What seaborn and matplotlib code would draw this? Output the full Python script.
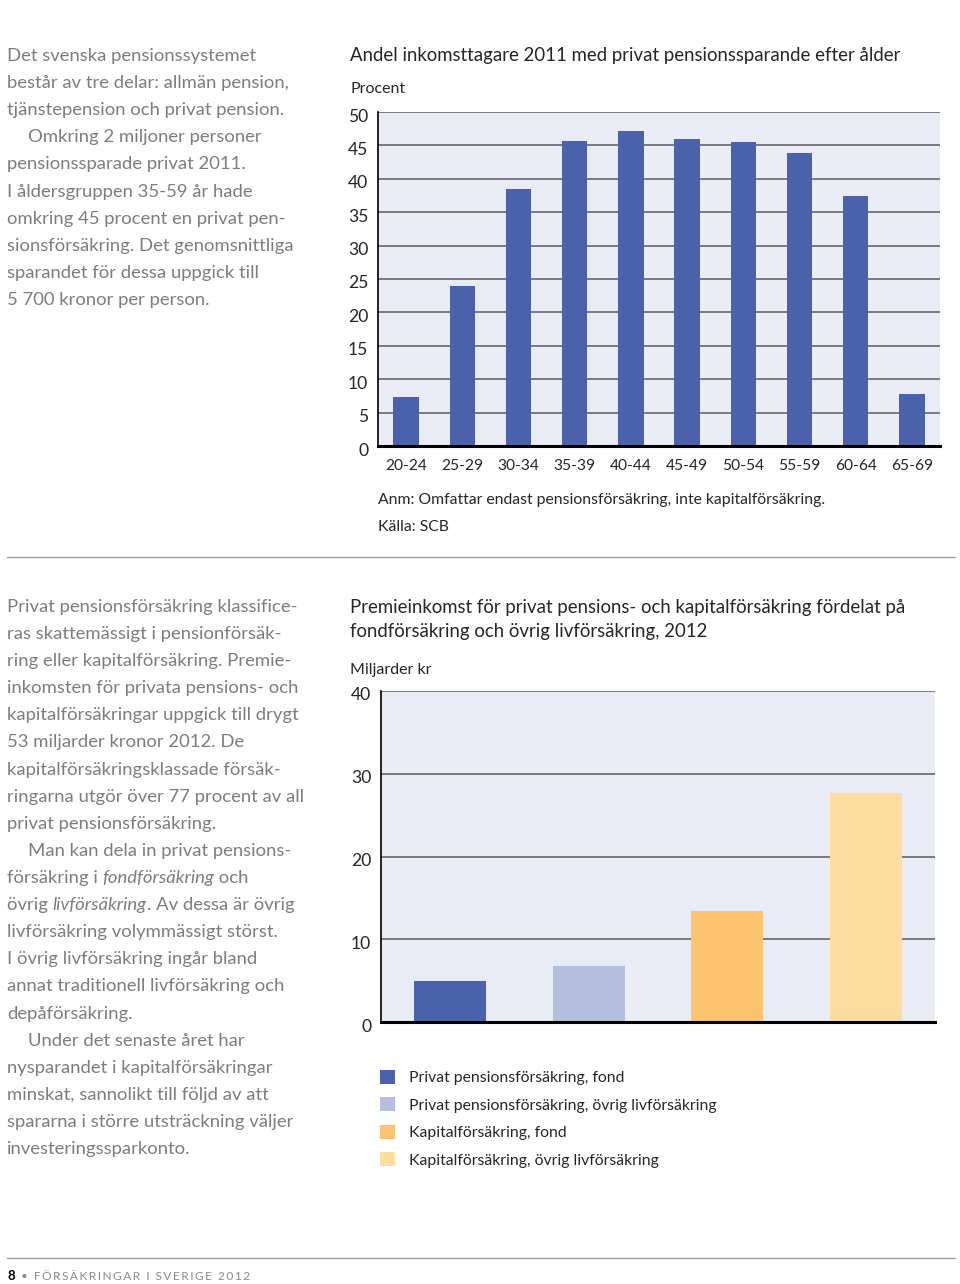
import matplotlib
matplotlib.use('Agg')
import matplotlib.pyplot as plt
import matplotlib.transforms as mtransforms
import seaborn as sns
from matplotlib.ticker import FixedLocator

# data
ages = ['20-24', '25-29', '30-34', '35-39', '40-44', '45-49', '50-54', '55-59', '60-64', '65-69']
share = [7.4, 24.0, 38.5, 45.7, 47.2, 46.0, 45.5, 43.9, 37.5, 7.8]

premie_cats = ['Privat pensionsförsäkring, fond',
               'Privat pensionsförsäkring, övrig livförsäkring',
               'Kapitalförsäkring, fond',
               'Kapitalförsäkring, övrig livförsäkring']
premie = [4.9, 6.8, 13.4, 27.7]
premie_colors = ['#4A61AB', '#B4BFDD', '#FDC46F', '#FEDDA0']

para1 = [
    (0, 'Det svenska pensionssystemet'),
    (0, 'består av tre delar: allmän pension,'),
    (0, 'tjänstepension och privat pension.'),
    (1, 'Omkring 2 miljoner personer'),
    (0, 'pensionssparade privat 2011.'),
    (0, 'I åldersgruppen 35-59 år hade'),
    (0, 'omkring 45 procent en privat pen-'),
    (0, 'sionsförsäkring. Det genomsnittliga'),
    (0, 'sparandet för dessa uppgick till'),
    (0, '5 700 kronor per person.'),
]
para2 = [
    (0, 'Privat pensionsförsäkring klassifice-'),
    (0, 'ras skattemässigt i pensionförsäk-'),
    (0, 'ring eller kapitalförsäkring. Premie-'),
    (0, 'inkomsten för privata pensions- och'),
    (0, 'kapitalförsäkringar uppgick till drygt'),
    (0, '53 miljarder kronor 2012. De'),
    (0, 'kapitalförsäkringsklassade försäk-'),
    (0, 'ringarna utgör över 77 procent av all'),
    (0, 'privat pensionsförsäkring.'),
    (1, 'Man kan dela in privat pensions-'),
    (0, [('försäkring i ', 'normal'), ('fondförsäkring', 'italic'), (' och', 'normal')]),
    (0, [('övrig ', 'normal'), ('livförsäkring', 'italic'), ('. Av dessa är övrig', 'normal')]),
    (0, 'livförsäkring volymmässigt störst.'),
    (0, 'I övrig livförsäkring ingår bland'),
    (0, 'annat traditionell livförsäkring och'),
    (0, 'depåförsäkring.'),
    (1, 'Under det senaste året har'),
    (0, 'nysparandet i kapitalförsäkringar'),
    (0, 'minskat, sannolikt till följd av att'),
    (0, 'spararna i större utsträckning väljer'),
    (0, 'investeringssparkonto.'),
]

sns.set_style('white')
plt.rcParams['font.family'] = ['Lato', 'DejaVu Sans']

W, H = 960, 1284
fig = plt.figure(figsize=(W / 100, H / 100), dpi=100)
renderer = fig.canvas.get_renderer()

BODY = '#7d7d7d'
DARK = '#262626'
BODY_SIZE = 13.3


def fx(x):
    return x / W


def fy(y):
    return 1 - y / H


def text_w(s, **kw):
    # width in px, trailing spaces counted
    a = fig.text(0, 0, 'x' + s + 'x', **kw)
    b = fig.text(0, 0, 'xx', **kw)
    w = a.get_window_extent(renderer).width - b.get_window_extent(renderer).width
    a.remove()
    b.remove()
    return w


def paragraph(lines, x0, y0, step=27.1):
    for i, (indent, line) in enumerate(lines):
        x = x0 + 21 * indent
        y = y0 + i * step
        runs = [(line, 'normal')] if isinstance(line, str) else line
        for s, st in runs:
            kw = dict(fontsize=BODY_SIZE, color=BODY, style=st)
            fig.text(fx(x), fy(y), s, va='center', ha='left', **kw)
            x += text_w(s, **kw)


paragraph(para1, 7, 56)
paragraph(para2, 7, 607)

# chart 1
ax1 = fig.add_axes([fx(378), fy(446), fx(940) - fx(378), (446 - 112) / H])
sns.barplot(x=ages, y=share, color='#4A61AB', width=0.45, saturation=1, linewidth=0, ax=ax1)
ax1.set_ylim(0, 50)
ax1.set_xlim(-0.5, len(ages) - 0.5)
ax1.set_yticks(range(0, 51, 5))

fig.text(fx(350), fy(56), 'Andel inkomsttagare 2011 med privat pensionssparande efter ålder',
         fontsize=13.4, color=DARK, va='center')
fig.text(fx(350), fy(89), 'Procent', fontsize=11.5, color=DARK, va='center')
fig.text(fx(378), fy(500), 'Anm: Omfattar endast pensionsförsäkring, inte kapitalförsäkring.',
         fontsize=11.3, color=DARK, va='center')
fig.text(fx(378), fy(527), 'Källa: SCB', fontsize=11.3, color=DARK, va='center')

# chart 2
ax2 = fig.add_axes([fx(381), fy(1022), fx(935) - fx(381), (1022 - 691) / H])
sns.barplot(x=premie_cats, y=premie, hue=premie_cats, palette=premie_colors,
            width=0.52, saturation=1, linewidth=0, legend=False, ax=ax2)
ax2.set_ylim(0, 40)
ax2.set_xlim(-0.5, len(premie_cats) - 0.5)
ax2.set_yticks(range(0, 41, 10))
ax2.set_xticklabels([])

fig.text(fx(350), fy(607), 'Premieinkomst för privat pensions- och kapitalförsäkring fördelat på',
         fontsize=13.4, color=DARK, va='center')
fig.text(fx(350), fy(631), 'fondförsäkring och övrig livförsäkring, 2012',
         fontsize=13.4, color=DARK, va='center')
fig.text(fx(350), fy(670), 'Miljarder kr', fontsize=11.5, color=DARK, va='center')

# y labels sit a little below their gridlines in the print layout
nudge = mtransforms.ScaledTranslation(0, -3 / 100, fig.dpi_scale_trans)

for ax, n in [(ax1, len(ages)), (ax2, len(premie_cats))]:
    ax.set_facecolor('#E9ECF5')
    ax.set_xlabel('')
    ax.set_ylabel('')
    ax.set_axisbelow(True)
    ax.yaxis.grid(True, color='#5a5a5a', lw=1.1)
    ax.xaxis.grid(False)
    for s in ['top', 'right']:
        ax.spines[s].set_visible(False)
    ax.spines['left'].set_color('black')
    ax.spines['left'].set_linewidth(1.2)
    ax.spines['bottom'].set_color('black')
    ax.spines['bottom'].set_linewidth(2.2)
    ax.xaxis.set_minor_locator(FixedLocator([i + 0.5 for i in range(n)]))
    ax.tick_params(axis='x', which='minor', direction='in', length=7, width=1.6, color='black')
    ax.tick_params(axis='x', which='major', length=0, labelsize=11.2, labelcolor=DARK, pad=9)
    ax.tick_params(axis='y', length=0, labelsize=12.6, labelcolor=DARK, pad=7)
    for lab in ax.get_yticklabels():
        lab.set_transform(lab.get_transform() + nudge)

leg = fig.legend(handles=ax2.patches[:4], labels=premie_cats, loc='upper left',
                 bbox_to_anchor=(fx(380), fy(1070)), frameon=False, fontsize=11.3,
                 handlelength=0.97, handleheight=0.97, labelspacing=0.78, handletextpad=0.9,
                 borderaxespad=0, borderpad=0)
for t in leg.get_texts():
    t.set_color(DARK)

# separators and footer
fig.add_artist(plt.Line2D([fx(7), fx(955)], [fy(557), fy(557)], color='#9a9a9a', lw=1))
fig.add_artist(plt.Line2D([fx(7), fx(955)], [fy(1258), fy(1258)], color='#9a9a9a', lw=1))
fig.text(fx(7), fy(1276), '8', fontsize=9.5, fontweight='bold', color='black', va='center')
fig.text(fx(21), fy(1276), '•  ' + '\u2009'.join('FÖRSÄKRINGAR') + '  I  ' + '\u2009'.join('SVERIGE')
         + '  ' + '\u2009'.join('2012'),
         fontsize=8.6, color='#8a8a8a', va='center')

fig.savefig('out.png', dpi=100)
